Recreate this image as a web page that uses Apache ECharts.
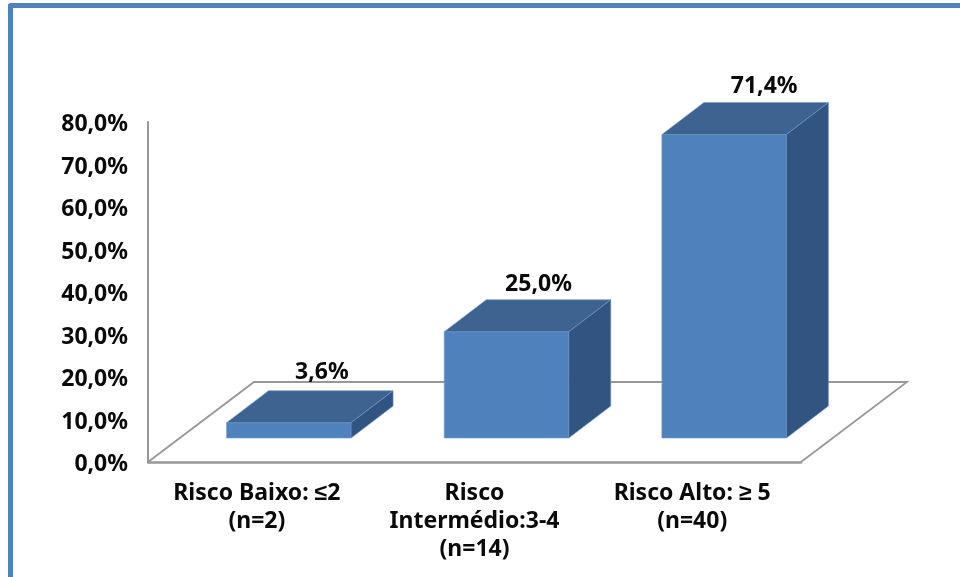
<!DOCTYPE html>
<html>
<head>
<meta charset="utf-8">
<style>html,body{margin:0;padding:0;background:#fff}#chart{width:960px;height:577px}</style>
<script src="https://cdn.jsdelivr.net/npm/echarts@6/dist/echarts.min.js"></script>
</head>
<body>
<div id="chart"></div>
<script>
// Risk groups and their share of patients
const categories = ['Risco Baixo: ≤2\n(n=2)', 'Risco\nIntermédio:3-4\n(n=14)', 'Risco Alto: ≥ 5\n(n=40)'];
const values = [3.6, 25.0, 71.4];

// Projection of the 3D box and floor, in pixels
const FLOOR_DX = 106, FLOOR_DY = 80;
const BAR_INSET_X = 32, BAR_INSET_Y = 24;
const BOX_DX = 42, BOX_DY = 32;
const BAR_RATIO = 0.572;
const labelShiftX = [33, 32, 40];
const labelShiftY = [-18, -15, -16];

const FONT = '"Noto Sans", sans-serif';
const FONT_SIZE = 23;
const COL_FRONT = '#4f81bd', COL_TOP = '#3e6390', COL_SIDE = '#325480', COL_EDGE = '#6f97c9', COL_AXIS = '#989898';

const pct = v => v.toFixed(1).replace('.', ',') + '%';

function renderFloor(params, api) {
  const band = api.size([1, 0])[0];
  const p0 = api.coord([0, 0]);
  const x0 = p0[0] - band / 2, x1 = x0 + band * categories.length, y = p0[1];
  return {
    type: 'polyline',
    shape: { points: [[x0, y], [x0 + FLOOR_DX, y - FLOOR_DY], [x1 + FLOOR_DX, y - FLOOR_DY], [x1, y]] },
    style: { fill: 'none', stroke: COL_AXIS, lineWidth: 1.8 }
  };
}

function renderBox(params, api) {
  const i = api.value(0), v = api.value(1);
  const band = api.size([1, 0])[0];
  const w = band * BAR_RATIO;
  const base = api.coord([i, 0]), top = api.coord([i, v]);
  const l = base[0] + BAR_INSET_X - w / 2, r = l + w;
  const yb = base[1] - BAR_INSET_Y, yt = top[1] - BAR_INSET_Y;
  const face = (pts, fill) => ({
    type: 'polygon', shape: { points: pts },
    style: { fill, stroke: COL_EDGE, lineWidth: 0.6 }
  });
  return {
    type: 'group',
    children: [
      face([[l, yb], [r, yb], [r, yt], [l, yt]], COL_FRONT),
      face([[l, yt], [r, yt], [r + BOX_DX, yt - BOX_DY], [l + BOX_DX, yt - BOX_DY]], COL_TOP),
      face([[r, yb], [r + BOX_DX, yb - BOX_DY], [r + BOX_DX, yt - BOX_DY], [r, yt]], COL_SIDE),
      {
        type: 'text',
        style: {
          x: l + w / 2 + labelShiftX[i], y: yt - BOX_DY + labelShiftY[i],
          text: pct(v), align: 'center', verticalAlign: 'middle',
          font: 'bold ' + FONT_SIZE + 'px ' + FONT, fill: '#0a0a0a'
        }
      }
    ]
  };
}

const chart = echarts.init(document.getElementById('chart'), null, { renderer: 'canvas' });
chart.setOption({
  animation: false,
  backgroundColor: '#fff',
  graphic: [{
    // Blue frame along the top and left edges
    type: 'polyline',
    shape: { points: [[10.5, 577], [10.5, 5.5], [960, 5.5]] },
    style: { fill: 'none', stroke: COL_FRONT, lineWidth: 5, lineJoin: 'round' },
    silent: true
  }],
  grid: { left: 148, right: 159, top: 122, bottom: 115 },
  xAxis: {
    type: 'category',
    data: categories,
    axisTick: { show: false },
    axisLine: { lineStyle: { color: COL_AXIS, width: 2.5 } },
    axisLabel: { interval: 0, margin: 17, color: '#0a0a0a', fontFamily: FONT, fontWeight: 'bold', fontSize: FONT_SIZE, lineHeight: 28 }
  },
  yAxis: {
    type: 'value',
    min: 0, max: 80, interval: 10,
    splitLine: { show: false },
    axisTick: { show: false },
    axisLine: { show: true, onZero: false, lineStyle: { color: COL_AXIS, width: 2 } },
    axisLabel: { margin: 20, verticalAlign: 'top', lineHeight: 5, color: '#0a0a0a', fontFamily: FONT, fontWeight: 'bold', fontSize: FONT_SIZE, formatter: v => pct(v) }
  },
  series: [
    { type: 'custom', z: 1, silent: true, renderItem: renderFloor, data: [[0, 0]], encode: { x: 0, y: 1 } },
    { type: 'custom', z: 2, silent: true, renderItem: renderBox, data: values.map((v, i) => [i, v]), encode: { x: 0, y: 1 } }
  ]
});
</script>
</body>
</html>
